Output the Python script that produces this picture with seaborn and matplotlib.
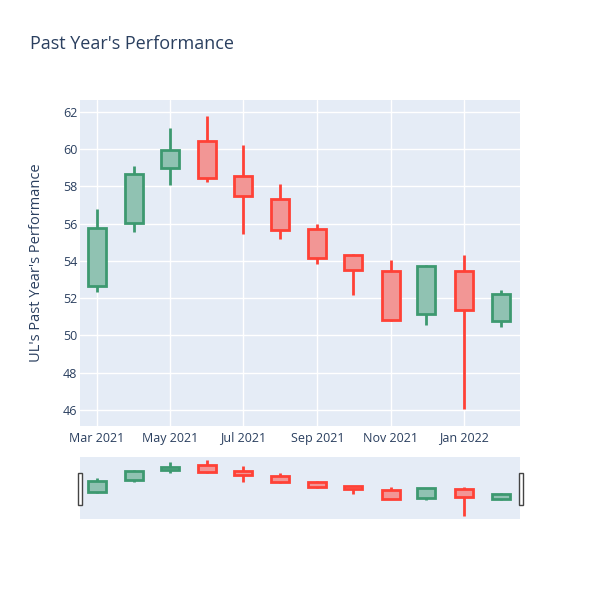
import pandas as pd
import matplotlib
matplotlib.use("Agg")
import matplotlib.pyplot as plt
import matplotlib.dates as mdates
from matplotlib.patches import Rectangle
import seaborn as sns

# monthly candles
dates = pd.to_datetime([
    "2021-03-01", "2021-04-01", "2021-05-01", "2021-06-01", "2021-07-01", "2021-08-01",
    "2021-09-01", "2021-10-01", "2021-11-01", "2021-12-01", "2022-01-01", "2022-02-01",
])
open_ = [52.66, 56.02, 58.97, 60.46, 58.56, 57.33, 55.70, 54.32, 53.45, 51.17, 53.48, 50.78]
high = [56.79, 59.08, 61.14, 61.79, 60.23, 58.12, 56.00, 54.39, 54.05, 53.80, 54.30, 52.46]
low = [52.35, 55.56, 58.10, 58.26, 55.47, 55.20, 53.84, 52.16, 50.78, 50.56, 46.03, 50.46]
close = [55.79, 58.67, 59.94, 58.44, 57.47, 55.66, 54.18, 53.52, 50.81, 53.75, 51.37, 52.23]
y_ticks = [46, 48, 50, 52, 54, 56, 58, 60, 62]

INC = "#3D9970"
DEC = "#FF4136"
TEXT = "#2a3f5f"
BG = "#E5ECF6"

sns.set_theme(style="darkgrid", rc={
    "axes.facecolor": BG,
    "grid.color": "white",
    "grid.linewidth": 1.0,
    "axes.edgecolor": BG,
})
plt.rcParams["font.family"] = ["Open Sans", "DejaVu Sans"]

df = pd.DataFrame({"date": dates, "open": open_, "high": high, "low": low, "close": close})
df["x"] = mdates.date2num(df["date"])
df["color"] = [INC if c >= o else DEC for o, c in zip(df["open"], df["close"])]
df["bottom"] = df[["open", "close"]].min(axis=1)
df["height"] = (df["close"] - df["open"]).abs()


def draw_candles(ax, lw):
    ax.vlines(df["x"], df["low"], df["high"], colors=df["color"], linewidth=lw, zorder=2)
    for _, r in df.iterrows():
        ax.bar(r["x"], r["height"], bottom=r["bottom"], width=15,
               facecolor=matplotlib.colors.to_rgba(r["color"], 0.5),
               edgecolor=r["color"], linewidth=lw, zorder=3)
        # opaque backing so the wick does not show through the body
        ax.bar(r["x"], r["height"], bottom=r["bottom"], width=15,
               facecolor=BG, edgecolor="none", zorder=2.5)


fig = plt.figure(figsize=(6, 6), dpi=100)
ax = fig.add_axes([80 / 600, 1 - 426 / 600, 440 / 600, 326 / 600])
draw_candles(ax, 2)

xmin = mdates.date2num(pd.Timestamp("2021-02-15"))
xmax = mdates.date2num(pd.Timestamp("2022-02-17"))
ax.set_xlim(xmin, xmax)
ax.set_ylim(45.14, 62.64)
ax.set_yticks(y_ticks)
ax.xaxis.set_major_locator(mdates.MonthLocator(bymonth=[1, 3, 5, 7, 9, 11]))
ax.xaxis.set_major_formatter(mdates.DateFormatter("%b %Y"))
ax.tick_params(axis="both", length=0, labelsize=9, labelcolor=TEXT)
ax.tick_params(axis="y", pad=2)
ax.tick_params(axis="x", pad=4)
for s in ax.spines.values():
    s.set_visible(False)
ax.set_ylabel("UL's Past Year's Performance", fontsize=10.5, color=TEXT)
ax.yaxis.set_label_coords(-36 / 440, 0.5)
ax.set_xlabel("")

# range slider
sl = fig.add_axes([80 / 600, 1 - 519 / 600, 440 / 600, 62 / 600])
draw_candles(sl, 2)
sl.set_xlim(xmin, xmax)
sl.set_ylim(45.14, 62.64)
sl.grid(False)
sl.set_xticks([])
sl.set_yticks([])
for s in sl.spines.values():
    s.set_visible(False)

for hx in (77.5, 518.5):
    fig.patches.append(Rectangle((hx / 600, 1 - 505 / 600), 4 / 600, 32 / 600,
                                 transform=fig.transFigure, facecolor="white",
                                 edgecolor="#444444", linewidth=1))

fig.text(30 / 600, 1 - 44 / 600, "Past Year's Performance", fontsize=13, color=TEXT,
         va="center", ha="left")

fig.savefig("out.png", dpi=100)
